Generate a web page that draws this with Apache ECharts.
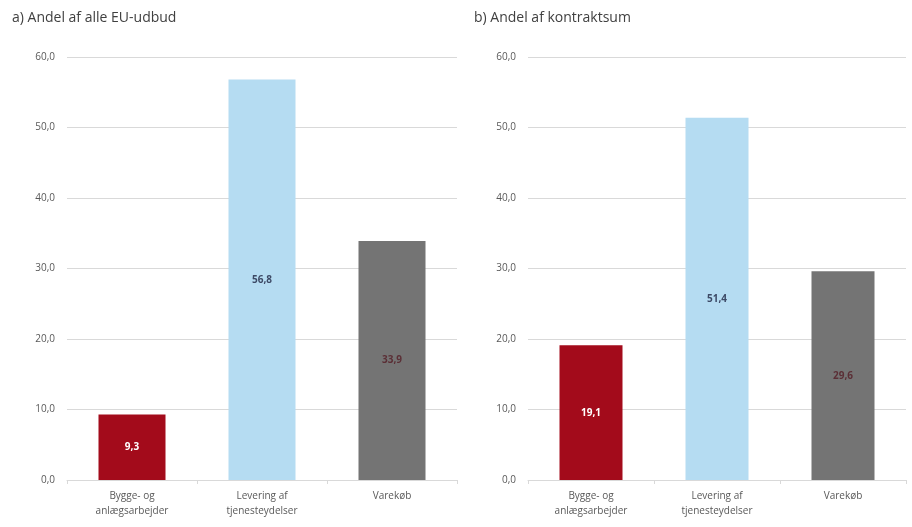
<!DOCTYPE html>
<html><head><meta charset="utf-8">
<script src="https://cdn.jsdelivr.net/npm/echarts@6/dist/echarts.min.js"></script>
<style>html,body{margin:0;padding:0;background:#fff}#c{width:912px;height:527px}</style>
</head><body><div id="c"></div>
<script>
const categories = ['Bygge- og\nanlægsarbejder', 'Levering af\ntjenesteydelser', 'Varekøb'];
const valuesA = [9.3, 56.8, 33.9];
const valuesB = [19.1, 51.4, 29.6];
const titles = ['a) Andel af alle EU-udbud', 'b) Andel af kontraktsum'];
const barColors = ['#A30B1B', '#B5DCF2', '#747474'];
const labelColors = ['#ffffff', '#3d4a66', '#5b2f36'];

const font = 'Open Sans, Noto Sans, sans-serif';
function mkData(vals){
  return vals.map((v,i)=>({value:v,itemStyle:{color:barColors[i]},
    label:{color:labelColors[i]}}));
}
const chart = echarts.init(document.getElementById('c'));
const grids = [{left:67, top:57, width:390, height:423},{left:528, top:57, width:378, height:423}];
const opt = {
  animation:false,
  title: titles.map((t,i)=>({text:t, left: i===0?7:469, top:6,
     textStyle:{fontFamily:font, fontSize:14, fontWeight:'normal', color:'#404040'}})),
  grid: grids,
  xAxis: [0,1].map(i=>({type:'category', gridIndex:i, data:categories,
     axisLine:{lineStyle:{color:'#d9d9d9'}},
     axisTick:{show:true, length:4, lineStyle:{color:'#d9d9d9'}},
     axisLabel:{fontFamily:font, fontSize:10, color:'#595959', margin:9, lineHeight:15}})),
  yAxis: [0,1].map(i=>({type:'value', gridIndex:i, min:0, max:60, interval:10,
     axisLine:{show:false}, axisTick:{show:false},
     splitLine:{lineStyle:{color:'#d9d9d9'}},
     axisLabel:{fontFamily:font, fontSize:10, color:'#595959', margin:12,
       formatter:v=>v.toFixed(1).replace('.',',')}})),
  series: [
    {type:'bar', xAxisIndex:0, yAxisIndex:0, data:mkData(valuesA), barWidth:67,
     label:{show:true, position:'inside', fontFamily:font, fontSize:10, fontWeight:'bold',
       formatter:p=>p.value.toFixed(1).replace('.',',')}},
    {type:'bar', xAxisIndex:1, yAxisIndex:1, data:mkData(valuesB), barWidth:63,
     label:{show:true, position:'inside', fontFamily:font, fontSize:10, fontWeight:'bold',
       formatter:p=>p.value.toFixed(1).replace('.',',')}}
  ]
};
chart.setOption(opt);
</script></body></html>
